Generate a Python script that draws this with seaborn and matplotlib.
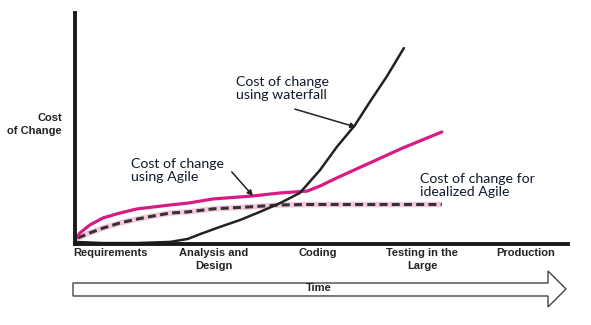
import matplotlib
matplotlib.use("Agg")
import matplotlib.pyplot as plt
import matplotlib.patches as mpatches
import seaborn as sns
import pandas as pd

# ---- data (time 0..100 along the axis, cost 0..100) ----
phases = ["Requirements", "Analysis and\nDesign", "Coding", "Testing in the\nLarge", "Production"]
phase_pos = [7.1, 28.2, 49.3, 70.4, 91.5]

waterfall_t = [0.0, 5.7, 12.6, 19.3, 22.9, 25.4, 29.4, 33.5, 37.5, 41.6, 45.6, 49.7, 53.1, 56.8, 59.8, 63.3, 66.7]
waterfall_c = [0.9, 0.4, 0.4, 0.9, 2.2, 4.3, 7.4, 10.4, 13.9, 17.7, 22.1, 32.0, 42.0, 51.5, 61.5, 72.7, 84.8]

agile_t = [0.0, 1.0, 3.0, 5.7, 9.1, 12.6, 15.8, 19.3, 22.9, 28.0, 36.1, 41.6, 47.1, 49.7, 53.1, 59.8, 66.5, 74.4]
agile_c = [1.7, 4.8, 8.2, 11.3, 13.4, 15.2, 16.0, 16.9, 17.7, 19.5, 20.8, 22.1, 22.9, 25.1, 28.6, 35.1, 41.6, 48.5]

ideal_t = [0.6, 3.0, 5.7, 9.1, 12.6, 15.8, 19.3, 22.9, 28.0, 34.9, 41.6, 47.1, 74.4]
ideal_c = [2.6, 4.8, 6.9, 9.1, 10.8, 12.1, 13.4, 13.9, 15.2, 16.0, 16.9, 17.1, 17.1]

sns.set_style("white")
plt.rcParams['font.family'] = ['Liberation Sans', 'DejaVu Sans']

W, H = 591, 325
fig = plt.figure(figsize=(W / 100, H / 100), dpi=100)
ax = fig.add_axes([75 / W, 1 - 244 / H, (568 - 75) / W, (244 - 13) / H])
ax.set_xlim(0, 100)
ax.set_ylim(0, 100)

df_w = pd.DataFrame({"t": waterfall_t, "c": waterfall_c})
df_a = pd.DataFrame({"t": agile_t, "c": agile_c})
df_i = pd.DataFrame({"t": ideal_t, "c": ideal_c})

pink = "#D81B84"
sns.lineplot(data=df_i, x="t", y="c", ax=ax, color="#F5C6DD", lw=4.0, sort=False,
             estimator=None, solid_capstyle="butt", solid_joinstyle="round")
sns.lineplot(data=df_i, x="t", y="c", ax=ax, color="#333333", lw=2.2, sort=False,
             estimator=None, linestyle=(0, (2.6, 1.4)))
sns.lineplot(data=df_a, x="t", y="c", ax=ax, color=pink, lw=2.3, sort=False, estimator=None,
             solid_joinstyle="round")
sns.lineplot(data=df_w, x="t", y="c", ax=ax, color="#222222", lw=1.8, sort=False, estimator=None,
             solid_joinstyle="round")

for s in ["top", "right"]:
    ax.spines[s].set_visible(False)
for s in ["left", "bottom"]:
    ax.spines[s].set_color("#1a1a1a")
    ax.spines[s].set_linewidth(2.8)

ax.set_yticks([])
ax.set_xticks(phase_pos)
ax.set_xticklabels(phases, fontsize=8, fontweight="bold", color="#222222", linespacing=1.3)
ax.tick_params(axis="x", length=0, pad=3)
ax.set_xlabel("")
ax.set_ylabel("")

fig.text(62 / W, 1 - 124.5 / H, "Cost\nof Change", ha="right", va="center",
         fontsize=8, fontweight="bold", color="#222222", linespacing=1.3, multialignment="right")

note_font = dict(family=["Lato", "DejaVu Sans"], fontsize=10.2, color="#101A2A", linespacing=1.15)
ax.text(32.7, 67.3, "Cost of change\nusing waterfall", ha="left", va="center", **note_font)
ax.text(11.4, 31.8, "Cost of change\nusing Agile", ha="left", va="center", **note_font)
ax.text(70.0, 25.3, "Cost of change for\nidealized Agile", ha="left", va="center", **note_font)

arrow_kw = dict(arrowstyle="-|>", lw=1.1, color="#222222", mutation_scale=8, shrinkA=0, shrinkB=0)
ax.annotate("", xy=(57.0, 50.6), xytext=(44.6, 58.4), arrowprops=arrow_kw)
ax.annotate("", xy=(36.1, 20.8), xytext=(31.8, 31.2), arrowprops=arrow_kw)

# ---- time arrow (pixel space overlay) ----
ov = fig.add_axes([0, 0, 1, 1], facecolor="none")
ov.set_xlim(0, W)
ov.set_ylim(H, 0)
ov.axis("off")
poly = mpatches.Polygon([(73, 283), (548, 283), (548, 271), (566, 289), (548, 307),
                         (548, 296), (73, 296)], closed=True, facecolor="white",
                        edgecolor="#444444", lw=1.0)
ov.add_patch(poly)
ov.text(319, 288, "Time", ha="center", va="center", fontsize=8, fontweight="bold", color="#222222")

fig.savefig("out.png", dpi=100)
